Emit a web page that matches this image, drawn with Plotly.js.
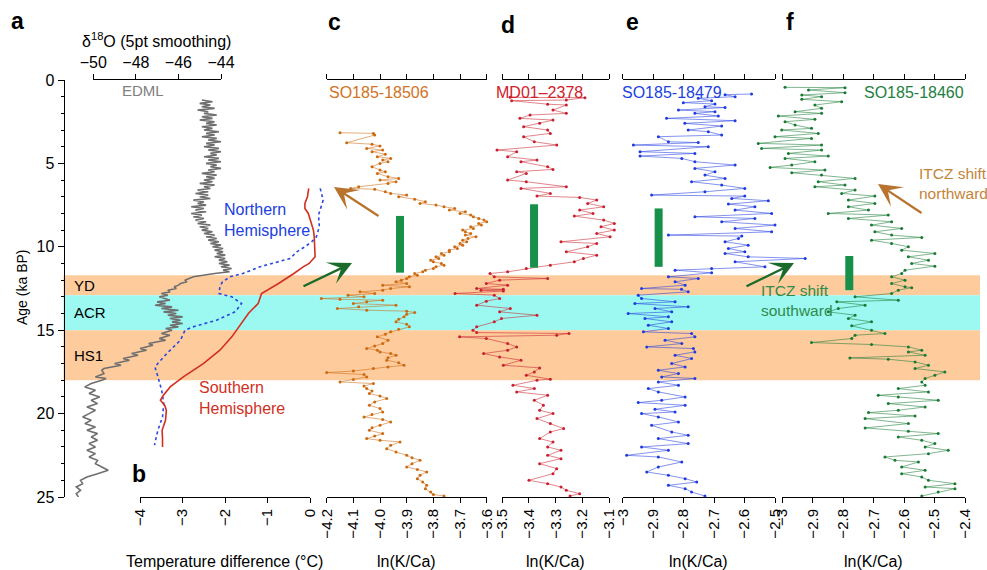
<!DOCTYPE html>
<html><head><meta charset="utf-8">
<script src="https://cdn.plot.ly/plotly-3.0.1.min.js"></script>
<style>body{margin:0;padding:0;background:#fff}#chart{width:987px;height:570px}</style>
</head><body><div id="chart"></div>
<script>
// ---------------- DATA ----------------
const edmlAge=[1.2,1.3,1.4,1.5,1.6,1.7,1.8,1.9,2.0,2.1,2.2,2.3,2.4,2.5,2.6,2.7,2.8,2.9,3.0,3.1,3.2,3.3,3.4,3.5,3.6,3.7,3.8,3.9,4.0,4.1,4.2,4.3,4.4,4.5,4.6,4.7,4.8,4.9,5.0,5.1,5.2,5.3,5.4,5.5,5.6,5.7,5.8,5.9,6.0,6.1,6.2,6.3,6.4,6.5,6.6,6.7,6.8,6.9,7.0,7.1,7.2,7.3,7.4,7.5,7.6,7.7,7.8,7.9,8.0,8.1,8.2,8.3,8.4,8.5,8.6,8.7,8.8,8.9,9.0,9.1,9.2,9.3,9.4,9.5,9.6,9.7,9.8,9.9,10.0,10.1,10.2,10.3,10.4,10.5,10.6,10.7,10.8,10.9,11.0,11.1,11.2,11.3,11.4,11.5,11.6,11.7,11.8,11.9,12.0,12.1,12.2,12.3,12.4,12.5,12.6,12.7,12.8,12.9,13.0,13.2,13.3,13.4,13.5,13.6,13.7,13.8,13.9,14.0,14.1,14.2,14.3,14.4,14.5,14.6,14.7,14.8,14.9,15.0,15.2,15.3,15.5,15.6,15.8,15.9,16.1,16.2,16.4,16.5,16.7,16.8,17.0,17.1,17.3,17.4,17.6,17.8,17.9,18.0,18.2,18.4,18.6,18.8,19.0,19.2,19.4,19.6,19.8,20.0,20.2,20.4,20.6,20.8,21.0,21.2,21.4,21.6,21.8,22.0,22.2,22.4,22.6,22.8,23.0,23.2,23.4,23.6,23.8,24.0,24.2,24.4,24.6,24.8,25.0];
const edmlD18O=[-44.9,-44.4,-45.0,-44.5,-44.9,-44.3,-45.1,-44.6,-44.8,-44.2,-44.9,-44.4,-45.0,-44.3,-44.7,-44.2,-44.9,-44.4,-44.8,-44.1,-44.7,-44.3,-44.9,-44.2,-44.6,-44.0,-44.7,-44.3,-44.8,-44.1,-44.6,-44.0,-44.5,-44.2,-44.8,-44.1,-44.6,-44.0,-44.7,-44.2,-44.5,-44.0,-44.6,-44.3,-44.9,-44.2,-44.7,-44.3,-44.8,-44.4,-45.0,-44.3,-44.8,-44.5,-45.1,-44.6,-45.2,-44.6,-45.0,-44.5,-45.3,-44.8,-45.1,-44.7,-45.4,-44.8,-45.2,-44.7,-45.4,-44.9,-45.3,-44.8,-45.2,-44.7,-45.1,-44.5,-45.0,-44.6,-44.9,-44.4,-44.8,-44.3,-44.7,-44.2,-44.6,-44.1,-44.5,-44.0,-44.4,-43.9,-44.3,-43.9,-44.2,-43.8,-44.3,-43.8,-44.1,-43.7,-44.1,-43.6,-44.0,-43.5,-43.9,-43.6,-44.3,-44.8,-45.3,-45.5,-45.7,-45.6,-45.9,-46.0,-46.2,-46.1,-46.5,-46.4,-46.8,-46.5,-46.9,-46.4,-47.0,-46.6,-47.1,-46.3,-46.8,-46.0,-46.7,-46.1,-46.5,-45.8,-46.4,-45.9,-46.3,-45.8,-46.4,-46.0,-46.6,-46.3,-46.8,-46.4,-46.9,-46.6,-47.4,-47.2,-47.8,-47.5,-48.2,-47.9,-48.6,-48.3,-49.0,-48.7,-49.5,-49.6,-49.5,-49.9,-49.4,-49.6,-50.1,-50.4,-49.9,-50.2,-49.7,-50.1,-49.8,-50.3,-49.9,-50.2,-50.5,-50.1,-50.4,-49.9,-50.3,-49.8,-50.1,-49.8,-50.2,-49.9,-50.3,-49.9,-50.2,-49.8,-49.9,-49.6,-49.3,-49.8,-50.3,-50.6,-50.5,-50.8,-50.6,-50.8,-50.7];

const nhAge=[6.5,7.2,8.1,8.8,9.4,9.7,10.0,10.3,10.7,11.2,11.6,11.8,12.1,12.4,12.8,13.0,13.4,13.9,14.4,14.8,15.0,15.6,16.4,17.2,17.6,18.0,18.6,19.4,20.2,21.0,21.9];
const nhTemp=[0.24,0.31,0.2,0.22,0.15,0.04,-0.12,-0.31,-0.47,-1.18,-1.58,-1.88,-2.06,-2.12,-2.14,-1.84,-1.61,-1.76,-2.2,-2.75,-2.94,-3.05,-3.37,-3.65,-3.6,-3.55,-3.49,-3.44,-3.47,-3.58,-3.66];
const shAge=[6.5,7.0,7.4,7.7,8.0,8.6,9.0,9.4,9.8,10.2,10.6,11.0,11.2,11.6,12.2,12.8,13.4,14.0,14.6,15.4,16.2,17.0,17.8,18.4,18.9,19.2,19.5,19.8,20.4,21.0,21.5,22.0];
const shTemp=[-0.03,-0.06,-0.12,-0.12,-0.04,0.04,0.08,0.1,0.11,0.12,0.12,-0.02,-0.16,-0.38,-0.74,-1.14,-1.22,-1.45,-1.61,-1.84,-2.12,-2.51,-2.98,-3.29,-3.45,-3.52,-3.42,-3.38,-3.4,-3.48,-3.47,-3.47];

const cAge=[3.16,3.2,3.3,3.76,3.85,3.95,4.1,4.2,4.3,4.45,4.6,4.7,4.8,4.9,5.0,5.2,5.4,5.5,5.6,5.8,5.9,6.0,6.1,6.2,6.4,6.5,6.55,6.7,6.8,6.9,7.0,7.15,7.3,7.4,7.5,7.6,7.7,7.8,7.9,8.0,8.1,8.2,8.3,8.4,8.5,8.6,8.7,8.8,8.9,9.0,9.1,9.2,9.3,9.4,9.5,9.6,9.7,9.8,9.9,10.0,10.1,10.2,10.3,10.4,10.5,10.6,10.7,10.8,10.9,11.0,11.1,11.2,11.3,11.4,11.5,11.6,11.7,11.8,11.9,12.0,12.1,12.2,12.3,12.4,12.5,12.6,12.7,12.8,12.9,13.0,13.1,13.15,13.2,13.3,13.4,13.5,13.6,13.7,13.8,13.86,13.94,14.05,14.2,14.35,14.5,14.65,14.8,14.95,15.1,15.25,15.4,15.6,15.8,15.95,16.1,16.2,16.3,16.4,16.5,16.65,16.8,16.95,17.1,17.2,17.3,17.45,17.54,17.66,17.8,17.95,18.1,18.2,18.35,18.5,18.65,18.8,18.95,19.1,19.3,19.5,19.7,19.9,20.05,20.2,20.35,20.5,20.7,20.85,21.0,21.2,21.35,21.5,21.6,21.7,21.9,22.1,22.3,22.5,22.65,22.8,23.0,23.2,23.35,23.5,23.7,23.9,24.1,24.3,24.5,24.7,24.85,24.94];
const cLnKCa=[-4.15,-4.025,-4.02,-4.125,-4.03,-4.0,-4.05,-3.99,-4.03,-3.98,-4.01,-3.96,-3.99,-3.97,-4.0,-4.03,-4.0,-3.98,-4.01,-3.97,-3.93,-4.0,-3.94,-3.97,-4.08,-4.11,-4.02,-3.98,-3.96,-3.9,-3.93,-3.87,-3.83,-3.85,-3.79,-3.76,-3.72,-3.74,-3.68,-3.7,-3.66,-3.65,-3.63,-3.61,-3.6,-3.63,-3.62,-3.66,-3.65,-3.69,-3.68,-3.66,-3.68,-3.64,-3.67,-3.69,-3.675,-3.7,-3.69,-3.72,-3.71,-3.74,-3.74,-3.77,-3.76,-3.79,-3.78,-3.81,-3.8,-3.77,-3.76,-3.79,-3.8,-3.83,-3.84,-3.87,-3.86,-3.89,-3.9,-3.92,-3.94,-3.9,-3.99,-3.89,-3.96,-3.99,-4.075,-4.02,-4.12,-4.06,-4.22,-4.15,-3.99,-4.05,-4.1,-3.94,-4.08,-4.16,-4.05,-3.9,-3.87,-3.9,-3.91,-3.93,-3.94,-3.9,-3.89,-3.93,-3.96,-3.98,-4.01,-3.97,-3.99,-4.02,-4.05,-4.01,-4.0,-3.96,-3.94,-3.97,-3.975,-3.93,-3.91,-3.97,-4.025,-4.1,-4.2,-4.06,-4.05,-4.1,-4.15,-4.025,-4.06,-4.05,-4.03,-4.04,-4.0,-3.975,-4.02,-4.04,-4.0,-3.99,-4.03,-4.06,-3.99,-3.96,-4.0,-4.03,-4.04,-3.99,-4.02,-4.05,-4.0,-3.925,-3.96,-3.975,-3.94,-3.9,-3.88,-3.85,-3.88,-3.9,-3.86,-3.825,-3.85,-3.86,-3.84,-3.825,-3.83,-3.81,-3.8,-3.76];

const dAge=[1.04,1.06,1.2,1.24,1.45,1.5,1.8,2.0,2.1,2.3,2.4,2.6,2.8,3.0,3.2,3.4,3.7,3.9,4.2,4.3,4.6,4.8,4.9,5.2,5.36,5.5,5.6,6.0,6.1,6.4,6.5,6.8,6.96,7.04,7.2,7.4,7.6,7.8,8.0,8.16,8.4,8.6,8.8,9.0,9.2,9.4,9.7,9.8,10.0,10.3,10.5,10.7,10.9,11.1,11.3,11.5,11.6,11.8,11.9,12.0,12.2,12.3,12.5,12.55,12.6,12.65,12.8,12.9,13.1,13.26,13.5,13.7,13.9,14.1,14.3,14.5,14.8,15.0,15.14,15.2,15.3,15.4,15.5,15.8,16.0,16.2,16.4,16.6,16.8,17.1,17.26,17.5,17.7,17.94,18.0,18.3,18.5,18.7,18.9,19.2,19.5,19.8,20.0,20.3,20.6,20.9,21.1,21.5,21.7,22.0,22.2,22.5,22.7,23.0,23.3,23.6,24.0,24.2,24.4,24.6,24.8,24.94];
const dLnKCa=[-3.471,-3.19,-3.26,-3.465,-3.33,-3.26,-3.31,-3.26,-3.396,-3.434,-3.31,-3.36,-3.42,-3.33,-3.32,-3.42,-3.38,-3.296,-3.52,-3.446,-3.48,-3.37,-3.43,-3.33,-3.31,-3.446,-3.41,-3.48,-3.41,-3.26,-3.43,-3.32,-3.37,-3.21,-3.146,-3.18,-3.12,-3.21,-3.16,-3.23,-3.12,-3.08,-3.13,-3.08,-3.146,-3.096,-3.28,-3.146,-3.18,-3.26,-3.146,-3.196,-3.23,-3.32,-3.41,-3.48,-3.546,-3.53,-3.33,-3.51,-3.56,-3.48,-3.596,-3.496,-3.58,-3.496,-3.677,-3.53,-3.51,-3.56,-3.596,-3.47,-3.51,-3.37,-3.503,-3.53,-3.596,-3.61,-3.596,-3.25,-3.296,-3.66,-3.56,-3.48,-3.446,-3.48,-3.57,-3.51,-3.43,-3.496,-3.36,-3.38,-3.41,-3.32,-3.37,-3.46,-3.38,-3.446,-3.33,-3.38,-3.346,-3.36,-3.31,-3.37,-3.32,-3.27,-3.32,-3.36,-3.31,-3.33,-3.28,-3.33,-3.28,-3.36,-3.296,-3.31,-3.40,-3.33,-3.28,-3.26,-3.21,-3.246];

const eAge=[0.84,0.88,1.0,1.1,1.24,1.36,1.44,1.6,1.65,1.8,1.9,2.0,2.16,2.3,2.44,2.6,2.76,3.0,3.1,3.3,3.4,3.7,3.75,3.9,4.0,4.3,4.4,4.56,4.7,4.9,5.1,5.3,5.5,5.7,5.9,6.1,6.3,6.5,6.7,6.9,6.96,7.1,7.24,7.44,7.6,7.8,8.0,8.2,8.3,8.5,8.7,8.9,9.1,9.3,9.36,9.5,9.7,9.9,10.1,10.3,10.4,10.6,10.7,10.9,11.2,11.3,11.4,11.56,11.8,11.9,12.1,12.3,12.5,12.55,12.7,12.9,13.1,13.3,13.4,13.6,13.7,13.9,14.0,14.2,14.3,14.5,14.7,14.9,15.1,15.2,15.4,15.6,15.8,16.0,16.1,16.3,16.5,16.7,17.0,17.2,17.4,17.6,17.8,17.9,18.1,18.3,18.5,18.7,19.0,19.2,19.34,19.5,19.74,19.9,20.0,20.2,20.5,20.7,21.1,21.3,21.5,21.8,22.0,22.2,22.5,22.6,22.9,23.2,23.5,23.7,23.9,24.1,24.3,24.5,24.7,24.94];
const eLnKCa=[-2.577,-2.664,-2.631,-2.752,-2.708,-2.801,-2.697,-2.73,-2.664,-2.817,-2.697,-2.763,-2.686,-2.856,-2.631,-2.796,-2.675,-2.785,-2.719,-2.675,-2.883,-2.85,-2.752,-2.965,-2.719,-2.943,-2.763,-2.943,-2.806,-2.763,-2.631,-2.763,-2.697,-2.73,-2.664,-2.774,-2.675,-2.599,-2.73,-2.905,-2.599,-2.642,-2.522,-2.653,-2.566,-2.631,-2.511,-2.763,-2.566,-2.675,-2.5,-2.631,-2.511,-2.85,-2.609,-2.62,-2.664,-2.588,-2.653,-2.599,-2.664,-2.588,-2.401,-2.631,-2.533,-2.708,-2.828,-2.708,-2.85,-2.752,-2.828,-2.795,-2.938,-2.807,-2.785,-2.949,-2.938,-2.828,-2.96,-2.785,-2.894,-2.839,-2.982,-2.85,-2.927,-2.839,-2.916,-2.85,-2.932,-2.774,-2.763,-2.861,-2.806,-2.921,-2.768,-2.763,-2.828,-2.774,-2.839,-2.795,-2.883,-2.817,-2.872,-2.763,-2.883,-2.817,-2.916,-2.883,-2.795,-2.872,-2.949,-2.795,-2.894,-2.828,-2.938,-2.883,-2.817,-2.905,-2.839,-2.785,-2.883,-2.785,-2.938,-2.85,-2.987,-2.883,-2.806,-2.883,-2.921,-2.85,-2.795,-2.757,-2.85,-2.795,-2.774,-2.73];

const fAge=[0.44,0.46,0.6,0.76,0.9,1.0,1.16,1.3,1.5,1.7,1.9,2.0,2.16,2.36,2.5,2.7,2.9,3.0,3.2,3.4,3.5,3.8,3.9,4.1,4.2,4.4,4.56,4.7,4.9,5.1,5.24,5.4,5.56,5.7,5.9,6.1,6.3,6.4,6.6,6.8,6.96,7.2,7.4,7.6,7.8,8.0,8.1,8.3,8.5,8.7,8.9,9.1,9.3,9.44,9.6,9.8,10.0,10.2,10.4,10.6,10.8,11.0,11.16,11.4,11.6,11.8,12.0,12.2,12.4,12.45,12.6,12.8,13.0,13.2,13.3,13.5,13.7,13.9,14.1,14.3,14.5,14.74,15.0,15.2,15.3,15.5,15.74,15.86,16.0,16.2,16.3,16.5,16.66,16.74,16.9,17.1,17.3,17.5,17.7,17.9,18.1,18.3,18.5,18.7,18.9,19.0,19.2,19.4,19.6,19.8,19.94,20.14,20.3,20.6,20.86,21.06,21.2,21.4,21.6,21.8,22.0,22.2,22.4,22.6,22.8,22.9,23.2,23.4,23.6,23.8,24.0,24.2,24.4,24.5,24.7,24.94];
const fLnKCa=[-2.991,-2.794,-2.914,-2.794,-2.936,-2.871,-2.936,-2.805,-2.893,-2.871,-2.958,-2.871,-3.013,-2.893,-2.991,-2.958,-2.904,-3.002,-2.882,-3.024,-2.904,-3.079,-2.871,-3.068,-2.871,-2.98,-2.849,-2.991,-2.893,-2.969,-3.04,-2.86,-2.969,-2.871,-2.761,-2.882,-2.794,-2.893,-2.761,-2.805,-2.696,-2.783,-2.696,-2.783,-2.717,-2.849,-2.652,-2.783,-2.641,-2.707,-2.608,-2.696,-2.641,-2.542,-2.707,-2.641,-2.586,-2.608,-2.499,-2.586,-2.52,-2.575,-2.499,-2.597,-2.608,-2.641,-2.597,-2.641,-2.597,-2.575,-2.619,-2.641,-2.761,-2.619,-2.821,-2.728,-2.816,-2.849,-2.761,-2.783,-2.707,-2.772,-2.707,-2.663,-2.761,-2.772,-2.904,-2.707,-2.586,-2.542,-2.586,-2.531,-2.778,-2.652,-2.564,-2.52,-2.564,-2.466,-2.499,-2.531,-2.542,-2.531,-2.619,-2.52,-2.685,-2.619,-2.488,-2.652,-2.531,-2.619,-2.717,-2.564,-2.728,-2.586,-2.728,-2.586,-2.488,-2.619,-2.542,-2.499,-2.531,-2.455,-2.52,-2.663,-2.63,-2.553,-2.608,-2.531,-2.608,-2.542,-2.52,-2.433,-2.531,-2.433,-2.488,-2.542];

const bandNames=['YD','ACR','HS1'];
const bandStart=[11.7,12.9,15.0];
const bandEnd=[12.9,15.0,18.0];

const coreNames=['SO185-18506','MD01–2378','SO185-18479','SO185-18460'];
const barLnKCa=[-3.925,-3.381,-2.882,-2.780];
const barAgeTop=[8.15,7.45,7.7,10.55];
const barAgeBottom=[11.55,11.25,11.2,12.6];

const ageTicks=[0,5,10,15,20,25];
const edmlTicks=[-50,-48,-46,-44];
const tempTicks=[-4,-3,-2,-1,0];
const cTicks=[-4.2,-4.1,-4.0,-3.9,-3.8,-3.7,-3.6];
const dTicks=[-3.5,-3.4,-3.3,-3.2,-3.1];
const eTicks=[-3,-2.9,-2.8,-2.7,-2.6,-2.5];
const fTicks=[-3,-2.9,-2.8,-2.7,-2.6,-2.5,-2.4];

// ---------------- LAYOUT GEOMETRY ----------------
const W=987,H=570;
const FONT='Liberation Sans, Arial, Helvetica, sans-serif';
const yTopPx=80, yBotPx=497;
// [value0, px0, value1, px1] for each horizontal scale
const cal={edml:[edmlTicks[0],93.3,edmlTicks[3],221],temp:[tempTicks[0],140,tempTicks[4],310],
  c:[cTicks[0],326.7,cTicks[6],486.7],d:[dTicks[0],502.3,dTicks[4],609],
  e:[eTicks[0],622.7,eTicks[5],775],f:[fTicks[0],782.3,fTicks[6],965]};
function fullRange(k){const [v0,p0,v1,p1]=cal[k];const s=(p1-p0)/(v1-v0);return [v0-p0/s,v0+(W-p0)/s];}
function dataAx(k){return {domain:[0,1],range:fullRange(k),autorange:false,visible:false,anchor:'y',fixedrange:true};}
function dispAx(k,ticks,top,labels,fmt){
  const [v0,p0,v1,p1]=cal[k];
  const a={domain:[p0/W,p1/W],range:[v0,v1],autorange:false,anchor:'y',side: top?'top':'bottom',
    showline:true,linecolor:'#000',linewidth:1,ticks:'outside',ticklen:5,tickcolor:'#000',tickwidth:1,
    tickmode:'array',tickvals:ticks,showticklabels:labels,showgrid:false,zeroline:false,fixedrange:true,
    tickfont:{family:FONT,size:15,color:'#000'}};
  if(!top){a.tickangle=-90;}
  if(fmt){a.tickformat=fmt;}
  return a;
}

const cols={c:'#CC6A12',d:'#C8202E',e:'#1F3BE0',f:'#187A33'};
const lcols={c:'rgba(204,106,18,0.55)',d:'rgba(200,32,46,0.55)',e:'rgba(31,59,224,0.55)',f:'rgba(24,122,51,0.55)'};
function core(x,y,ax,k){return {x:x,y:y,xaxis:ax,yaxis:'y',type:'scatter',mode:'lines+markers',
  line:{color:lcols[k],width:1},marker:{color:cols[k],size:3},hoverinfo:'skip'};}

const traces=[
  {x:edmlD18O,y:edmlAge,xaxis:'x',yaxis:'y',type:'scatter',mode:'lines',line:{color:'#6f6f6f',width:1.6},hoverinfo:'skip'},
  {x:nhTemp,y:nhAge,xaxis:'x2',yaxis:'y',type:'scatter',mode:'lines',line:{color:'#2a48e0',width:1.6,dash:'3px,3px'},hoverinfo:'skip'},
  {x:shTemp,y:shAge,xaxis:'x2',yaxis:'y',type:'scatter',mode:'lines',line:{color:'#D2301E',width:1.6},hoverinfo:'skip'},
  core(cLnKCa,cAge,'x3','c'),
  core(dLnKCa,dAge,'x4','d'),
  core(eLnKCa,eAge,'x5','e'),
  core(fLnKCa,fAge,'x6','f')
];
['x3','x4','x5','x6'].forEach((ax,i)=>{
  traces.push({x:[barLnKCa[i],barLnKCa[i]],y:[barAgeTop[i],barAgeBottom[i]],xaxis:ax,yaxis:'y',type:'scatter',mode:'lines',
    line:{color:'#17904A',width:8},hoverinfo:'skip'});
});
// empty placeholder traces so that the display-only axes get drawn
for(let n=7;n<=16;n++){
  traces.push({x:[null],y:[null],xaxis:'x'+n,yaxis:'y',type:'scatter',mode:'markers',marker:{opacity:0},hoverinfo:'skip'});
}

const bandColors=['#FDCB9C','#9CF9F2','#FDCB9C'];
const shapes=bandNames.map((n,i)=>({type:'rect',xref:'paper',yref:'y',x0:63.5/W,x1:980/W,y0:bandStart[i],y1:bandEnd[i],
  fillcolor:bandColors[i],line:{width:0},layer:'below'}));

function ann(text,px,py,opt){return Object.assign({text:text,xref:'paper',yref:'paper',x:px/W,y:1-py/H,showarrow:false,
  xanchor:'center',yanchor:'middle',font:{family:FONT,size:16,color:'#000'}},opt||{});}
function arrow(hx,hy,tx,ty,color){return {text:'',xref:'paper',yref:'paper',x:hx/W,y:1-hy/H,ax:tx-hx,ay:ty-hy,
  showarrow:true,arrowhead:3,arrowsize:1.7,arrowwidth:2.3,arrowcolor:color};}
const bold=()=>({family:FONT,size:23,color:'#000',weight:'bold'});

const annotations=[
  ann('<b>a</b>',17,21,{font:bold()}),
  ann('<b>b</b>',139,474,{font:bold()}),
  ann('<b>c</b>',334,22,{font:bold()}),
  ann('<b>d</b>',508,25,{font:bold()}),
  ann('<b>e</b>',632,22,{font:bold()}),
  ann('<b>f</b>',790,22,{font:bold()}),
  ann('δ<sup>18</sup>O (5pt smoothing)',156,40),
  ann('EDML',143,90,{font:{family:FONT,size:15,color:'#808080'}}),
  ann(coreNames[0],378.5,92,{font:{family:FONT,size:16,color:'#D2721E'}}),
  ann(coreNames[1],539,92,{font:{family:FONT,size:16,color:'#D0202A'}}),
  ann(coreNames[2],672,92,{font:{family:FONT,size:16,color:'#2040E0'}}),
  ann(coreNames[3],914,92,{font:{family:FONT,size:16,color:'#1E8040'}}),
  ann('Northern<br>Hemisphere',222,220,{xanchor:'left',align:'left',font:{family:FONT,size:16,color:'#2040E0'}}),
  ann('Southern<br>Hemisphere',197,398,{xanchor:'left',align:'left',font:{family:FONT,size:16,color:'#D2301E'}}),
  ann('ITCZ shift<br>northward',917,183,{xanchor:'left',align:'left',font:{family:FONT,size:15.5,color:'#C4843A'}}),
  ann('ITCZ shift<br>southward',759,300,{xanchor:'left',align:'left',font:{family:FONT,size:15.5,color:'#2E8B4A'}}),
  ann('Temperature difference (°C)',224,561),
  ann('ln(K/Ca)',(cal.c[1]+cal.c[3])/2,561),
  ann('ln(K/Ca)',(cal.d[1]+cal.d[3])/2,561),
  ann('ln(K/Ca)',(cal.e[1]+cal.e[3])/2,561),
  ann('ln(K/Ca)',(cal.f[1]+cal.f[3])/2,561),
  ann('Age (ka BP)',22,288,{textangle:-90,font:{family:FONT,size:14,color:'#000'}}),
  arrow(334,187,380,217,'#B8742E'),
  arrow(352,263,302,287,'#1B6B2A'),
  arrow(878,184,923,214,'#B8742E'),
  arrow(794,263,745,287,'#1B6B2A')
];
bandNames.forEach((n,i)=>{
  annotations.push({text:n,xref:'paper',yref:'y',x:72/W,y:(bandStart[i]+bandEnd[i])/2,xanchor:'left',yanchor:'middle',
    showarrow:false,font:{family:FONT,size:15,color:'#000'}});
});

const layout={
  width:W,height:H,margin:{l:0,r:0,t:0,b:0,pad:0},paper_bgcolor:'#fff',plot_bgcolor:'rgba(0,0,0,0)',
  showlegend:false,hovermode:false,dragmode:false,
  xaxis:dataAx('edml'),xaxis2:dataAx('temp'),xaxis3:dataAx('c'),xaxis4:dataAx('d'),xaxis5:dataAx('e'),xaxis6:dataAx('f'),
  xaxis7:dispAx('edml',edmlTicks,true,true),
  xaxis8:dispAx('temp',tempTicks,false,true),
  xaxis9:dispAx('c',cTicks,false,true,'.1f'),
  xaxis10:dispAx('d',dTicks,false,true,'.1f'),
  xaxis11:dispAx('e',eTicks,false,true),
  xaxis12:dispAx('f',fTicks,false,true),
  xaxis13:dispAx('c',cTicks,true,false),
  xaxis14:dispAx('d',dTicks,true,false),
  xaxis15:dispAx('e',eTicks,true,false),
  xaxis16:dispAx('f',fTicks,true,false),
  yaxis:{domain:[1-yBotPx/H,1-yTopPx/H],range:[ageTicks[5],ageTicks[0]],autorange:false,anchor:'free',position:63.5/W,
    showline:true,linecolor:'#000',linewidth:1,ticks:'outside',ticklen:6,tickcolor:'#000',tickmode:'array',tickvals:ageTicks,
    minor:{dtick:1,tick0:0,ticks:'outside',ticklen:3,tickcolor:'#000'},
    showgrid:false,zeroline:false,fixedrange:true,tickfont:{family:FONT,size:16,color:'#000'}},
  shapes:shapes,annotations:annotations
};
layout.xaxis7.tickfont={family:FONT,size:16,color:'#000'};
Plotly.newPlot('chart',traces,layout,{staticPlot:true,displayModeBar:false});
</script>
</body></html>
